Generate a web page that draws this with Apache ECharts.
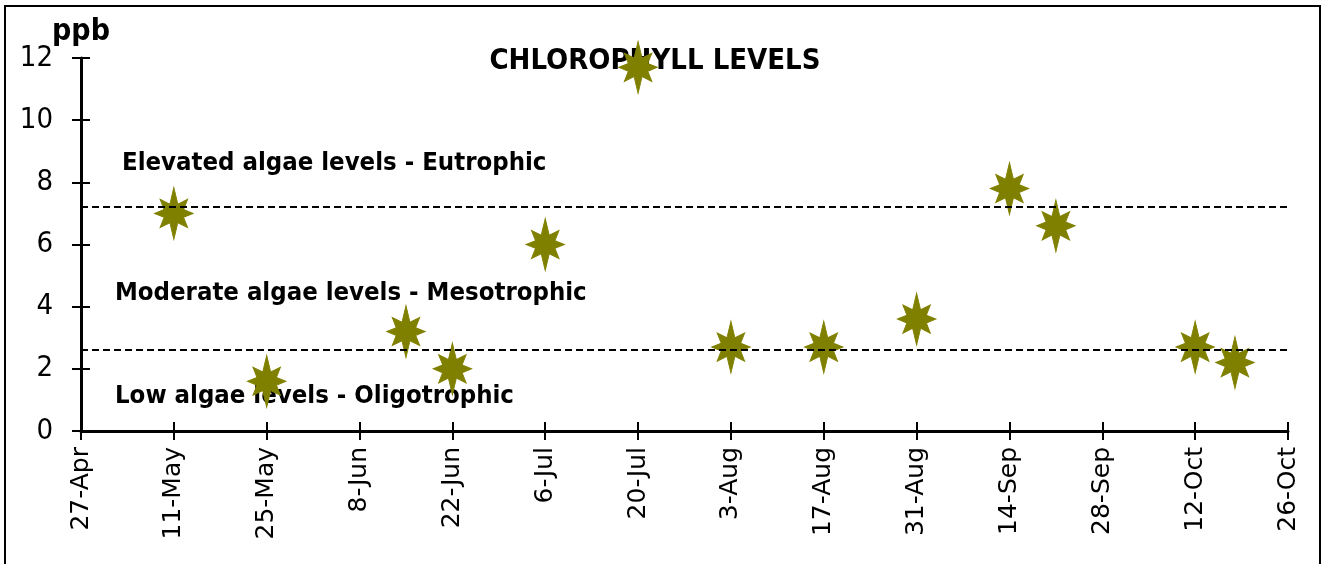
<!DOCTYPE html>
<html><head><meta charset="utf-8">
<script src="https://cdn.jsdelivr.net/npm/echarts@6/dist/echarts.min.js"></script>
<style>html,body{margin:0;padding:0;background:#fff}#c{width:1328px;height:564px}</style>
</head><body><div id="c"></div>
<script>
// ---- data ----
const sampleDates = ['2010-05-11','2010-05-25','2010-06-15','2010-06-22','2010-07-06','2010-07-20','2010-08-03','2010-08-17','2010-08-31','2010-09-14','2010-09-21','2010-10-12','2010-10-18'];
const chlorophyll = [7.0, 1.6, 3.2, 2.0, 6.0, 11.7, 2.7, 2.7, 3.6, 7.8, 6.6, 2.7, 2.2];
const thresholds = [7.2, 2.6];
const axisStart = '2010-04-27';
const axisEnd = '2010-10-26';
const tickStepDays = 14;
const monthNames = ['Jan','Feb','Mar','Apr','May','Jun','Jul','Aug','Sep','Oct','Nov','Dec'];
const zoneLabels = ['Elevated algae levels - Eutrophic','Moderate algae levels - Mesotrophic','Low algae levels - Oligotrophic'];
const titleText = 'CHLOROPHYLL LEVELS';
const unitText = 'ppb';

const DAY = 86400000;
function ts(s){const p=s.split('-');return Date.UTC(+p[0],+p[1]-1,+p[2]);}
const t0 = ts(axisStart);
const dayOf = s => Math.round((ts(s)-t0)/DAY);
const xMax = dayOf(axisEnd);
const points = sampleDates.map((d,i)=>[dayOf(d), chlorophyll[i]]);
function fmtDay(v){const d=new Date(t0+v*DAY);return d.getUTCDate()+'-'+monthNames[d.getUTCMonth()];}

const star = 'path://M0 -26 L3.8 -9.2 L13 -14 L9.2 -3.8 L18 0 L9.2 3.8 L13 14 L3.8 9.2 L0 26 L-3.8 9.2 L-13 14 L-9.2 3.8 L-18 0 L-9.2 -3.8 L-13 -14 L-3.8 -9.2 Z';
const narrow = '"DejaVu Sans Condensed","Liberation Sans Narrow","DejaVu Sans",sans-serif';

const chart = echarts.init(document.getElementById('c'));
const baseX = {type:'value', min:0, max:xMax, interval:tickStepDays, gridIndex:0, position:'bottom', splitLine:{show:false}};
const baseY = {type:'value', min:0, max:12, interval:2, gridIndex:0, position:'left', splitLine:{show:false}};
chart.setOption({
  animation:false,
  backgroundColor:'#fff',
  grid:{left:81, right:40, top:58, bottom:133},
  xAxis:[
    Object.assign({}, baseX, {
      axisLine:{lineStyle:{color:'#000',width:3}},
      axisTick:{inside:false,length:9,lineStyle:{color:'#000',width:2}},
      axisLabel:{rotate:90, margin:16, color:'#000', fontSize:25, fontFamily:'"DejaVu Sans",sans-serif', formatter:fmtDay}
    }),
    Object.assign({}, baseX, {
      axisLine:{show:false},
      axisTick:{inside:true,length:9,lineStyle:{color:'#000',width:2}},
      axisLabel:{show:false}
    })
  ],
  yAxis:[
    Object.assign({}, baseY, {
      axisLine:{show:true,lineStyle:{color:'#000',width:3}},
      axisTick:{show:true,inside:false,length:9,lineStyle:{color:'#000',width:2}},
      axisLabel:{margin:28, color:'#000', fontSize:29, fontFamily:narrow}
    }),
    Object.assign({}, baseY, {
      axisLine:{show:false},
      axisTick:{show:true,inside:true,length:9,lineStyle:{color:'#000',width:2}},
      axisLabel:{show:false}
    })
  ],
  series:[{
    type:'scatter', xAxisIndex:0, yAxisIndex:0,
    data:points,
    symbol:star, symbolSize:[38,52],
    itemStyle:{color:'#808000', opacity:1, borderColor:'#808000', borderWidth:1},
    markLine:{
      silent:true, symbol:['none','none'], label:{show:false},
      lineStyle:{color:'#000', type:[7,4], width:2},
      data:thresholds.map(v=>({yAxis:v}))
    }
  }],
  graphic:[
    {type:'rect', shape:{x:5,y:6,width:1315,height:620}, style:{fill:null, stroke:'#000', lineWidth:2}, z:-1},
    {type:'text', x:52, y:32, style:{text:unitText, fill:'#000', font:'bold 30px '+narrow, verticalAlign:'middle'}},
    {type:'text', x:655, y:61, style:{text:titleText, fill:'#000', font:'bold 29px '+narrow, align:'center', verticalAlign:'middle'}},
    {type:'text', x:122, y:163, style:{text:zoneLabels[0], fill:'#000', font:'bold 25.5px '+narrow, verticalAlign:'middle'}},
    {type:'text', x:115, y:293, style:{text:zoneLabels[1], fill:'#000', font:'bold 25.5px '+narrow, verticalAlign:'middle'}},
    {type:'text', x:115, y:396, style:{text:zoneLabels[2], fill:'#000', font:'bold 25.5px '+narrow, verticalAlign:'middle'}}
  ]
});
</script></body></html>
